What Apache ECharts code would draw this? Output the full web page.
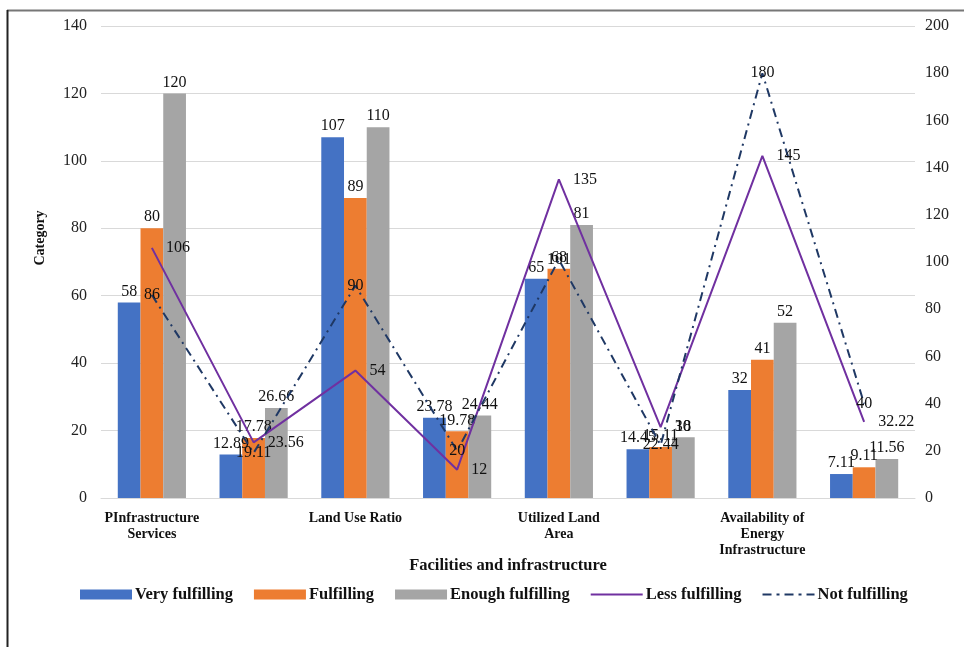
<!DOCTYPE html>
<html>
<head>
<meta charset="utf-8">
<script src="https://cdn.jsdelivr.net/npm/echarts@6/dist/echarts.min.js"></script>
<style>
html,body{margin:0;padding:0;background:#fff;}
#chart{width:964px;height:647px;}
</style>
</head>
<body>
<div id="chart"></div>
<script>
var categories = ["PInfrastructure\nServices", "", "Land Use Ratio", "", "Utilized Land\nArea", "", "Availability of\nEnergy\nInfrastructure", ""];
var veryFulfilling = [58, 12.89, 107, 23.78, 65, 14.45, 32, 7.11];
var fulfilling = [80, 17.78, 89, 19.78, 68, 15.11, 41, 9.11];
var enoughFulfilling = [120, 26.66, 110, 24.44, 81, 18, 52, 11.56];
var lessFulfilling = [106, 23.56, 54, 12, 135, 30, 145, 32.22];
var notFulfilling = [86, 19.11, 90, 20, 101, 22.44, 180, 40];
var leftTicks = {min: 0, max: 140, interval: 20};
var rightTicks = {min: 0, max: 200, interval: 20};

var FONT = "'Liberation Serif', 'DejaVu Serif', serif";
var chart = echarts.init(document.getElementById('chart'), null, {renderer: 'canvas'});

var barLabel = {show: true, position: 'top', distance: 3, fontFamily: FONT, fontSize: 16, color: '#111'};
var solidIcon = 'path://M0,0 L0.01,0 Z M0,4 L52,4 L52,6 L0,6 Z M0,10 L0.01,10 Z';
var dashDotIcon = 'path://M0,0 L0.01,0 Z M0,4 L9,4 L9,6 L0,6 Z M14,4 L17,4 L17,6 L14,6 Z M22,4 L31,4 L31,6 L22,6 Z M36,4 L39,4 L39,6 L36,6 Z M44,4 L52,4 L52,6 L44,6 Z M0,10 L0.01,10 Z';

chart.setOption({
  animation: false,
  backgroundColor: '#ffffff',
  grid: {left: 101, right: 49, top: 26, bottom: 149},
  legend: {
    top: 581, left: 75,
    itemWidth: 52, itemHeight: 10, itemGap: 21,
    textStyle: {fontFamily: FONT, fontSize: 16.5, fontWeight: 'bold', color: '#111', padding: [0, 0, 0, -2]},
    data: [
      {name: 'Very fulfilling', icon: 'rect'},
      {name: 'Fulfilling', icon: 'rect'},
      {name: 'Enough fulfilling', icon: 'rect'},
      {name: 'Less fulfilling', icon: solidIcon},
      {name: 'Not fulfilling', icon: dashDotIcon}
    ]
  },
  xAxis: {
    type: 'category',
    data: categories,
    axisLine: {lineStyle: {color: '#d9d9d9'}},
    axisTick: {show: false},
    axisLabel: {interval: 0, margin: 12, fontFamily: FONT, fontSize: 14, fontWeight: 'bold', color: '#111', lineHeight: 16}
  },
  yAxis: [
    {
      type: 'value', min: leftTicks.min, max: leftTicks.max, interval: leftTicks.interval,
      axisLine: {show: false}, axisTick: {show: false},
      splitLine: {lineStyle: {color: '#d9d9d9'}},
      axisLabel: {margin: 14, fontFamily: FONT, fontSize: 16, color: '#222'}
    },
    {
      type: 'value', min: rightTicks.min, max: rightTicks.max, interval: rightTicks.interval,
      axisLine: {show: false}, axisTick: {show: false},
      splitLine: {show: false},
      axisLabel: {margin: 10, fontFamily: FONT, fontSize: 16, color: '#222'}
    }
  ],
  series: [
    {name: 'Very fulfilling', type: 'bar', data: veryFulfilling, barGap: '0%', barCategoryGap: '33%',
     itemStyle: {color: '#4472C4'}, label: barLabel},
    {name: 'Fulfilling', type: 'bar', data: fulfilling, barGap: '0%', barCategoryGap: '33%',
     itemStyle: {color: '#ED7D31'}, label: barLabel},
    {name: 'Enough fulfilling', type: 'bar', data: enoughFulfilling, barGap: '0%', barCategoryGap: '33%',
     itemStyle: {color: '#A5A5A5'}, label: barLabel},
    {name: 'Less fulfilling', type: 'line', yAxisIndex: 1, data: lessFulfilling,
     symbol: 'circle', symbolSize: 0, showSymbol: true,
     lineStyle: {color: '#7030A0', width: 2}, itemStyle: {color: '#7030A0'},
     label: {show: true, position: 'right', distance: 14, fontFamily: FONT, fontSize: 16, color: '#111'}},
    {name: 'Not fulfilling', type: 'line', yAxisIndex: 1, data: notFulfilling,
     symbol: 'circle', symbolSize: 0, showSymbol: true,
     lineStyle: {color: '#1F3864', width: 2, type: [9, 5, 2, 5]}, itemStyle: {color: '#1F3864'},
     label: {show: true, position: 'inside', fontFamily: FONT, fontSize: 16, color: '#111'}}
  ],
  graphic: [
    {type: 'text', x: 40, y: 238, rotation: Math.PI / 2,
     style: {text: 'Category', font: "bold 14px 'Liberation Serif', serif", fill: '#111', textAlign: 'center', textVerticalAlign: 'middle'}},
    {type: 'text', x: 508, y: 566,
     style: {text: 'Facilities and infrastructure', font: "bold 16.5px 'Liberation Serif', serif", fill: '#111', textAlign: 'center', textVerticalAlign: 'middle'}},
    {type: 'line', shape: {x1: 7, y1: 10.5, x2: 964, y2: 10.5}, style: {stroke: '#777', lineWidth: 2}},
    {type: 'line', shape: {x1: 7.5, y1: 10, x2: 7.5, y2: 647}, style: {stroke: '#222', lineWidth: 2}}
  ]
});
</script>
</body>
</html>
